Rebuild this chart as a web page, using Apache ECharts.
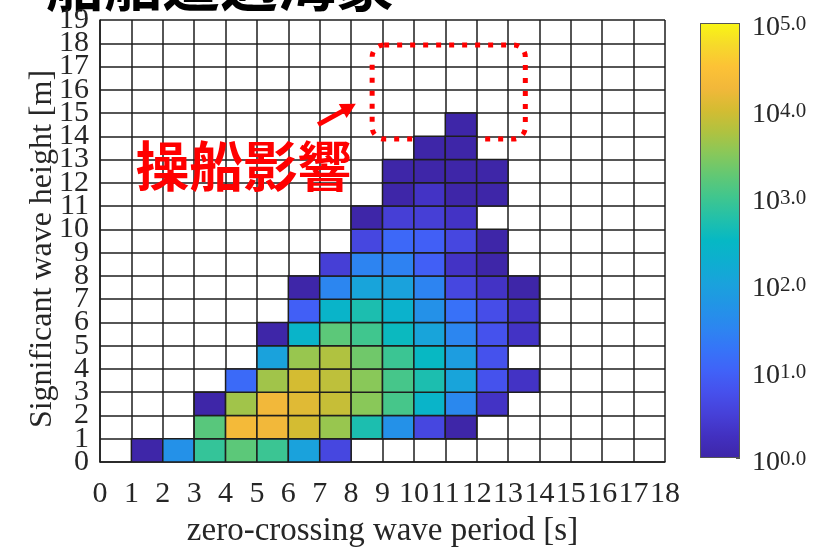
<!DOCTYPE html>
<html>
<head>
<meta charset="utf-8">
<style>
  html, body { margin: 0; padding: 0; background: #ffffff; }
  #chart { width: 820px; height: 547px; }
</style>
<script src="https://cdn.jsdelivr.net/npm/echarts@6.0.0/dist/echarts.min.js"></script>
</head>
<body>
<div id="chart"></div>
<script>
// Occurrence counts per wave-height bin (row = Hs bin [j, j+1) m),
// one entry per zero-crossing period bin [i, i+1) s, i = 0..17. 0 = no record.
const hs00 = [0, 1, 50, 800, 1600, 900, 100, 4, 0, 0, 0, 0, 0, 0, 0, 0, 0, 0];
const hs01 = [0, 0, 0, 1500, 20000, 18000, 10000, 4000, 500, 50, 4, 1, 0, 0, 0, 0, 0, 0];
const hs02 = [0, 0, 0, 1, 4500, 18000, 12600, 8000, 3200, 1100, 250, 35, 2, 0, 0, 0, 0, 0];
const hs03 = [0, 0, 0, 0, 13, 4500, 10000, 7000, 3200, 1100, 500, 110, 6, 2, 0, 0, 0, 0];
const hs04 = [0, 0, 0, 0, 0, 100, 4000, 5600, 2200, 900, 320, 80, 6, 0, 0, 0, 0, 0];
const hs05 = [0, 0, 0, 0, 0, 1, 250, 1600, 1000, 350, 110, 32, 6, 2, 0, 0, 0, 0];
const hs06 = [0, 0, 0, 0, 0, 0, 9, 250, 500, 220, 50, 16, 5, 2, 0, 0, 0, 0];
const hs07 = [0, 0, 0, 0, 0, 0, 1, 32, 110, 100, 30, 4, 2, 1, 0, 0, 0, 0];
const hs08 = [0, 0, 0, 0, 0, 0, 0, 3, 30, 28, 9, 2, 1, 0, 0, 0, 0, 0];
const hs09 = [0, 0, 0, 0, 0, 0, 0, 0, 4, 12, 9, 4, 1, 0, 0, 0, 0, 0];
const hs10 = [0, 0, 0, 0, 0, 0, 0, 0, 1, 3, 3, 2, 0, 0, 0, 0, 0, 0];
const hs11 = [0, 0, 0, 0, 0, 0, 0, 0, 0, 1, 2, 1, 1, 0, 0, 0, 0, 0];
const hs12 = [0, 0, 0, 0, 0, 0, 0, 0, 0, 1, 1, 1, 1, 0, 0, 0, 0, 0];
const hs13 = [0, 0, 0, 0, 0, 0, 0, 0, 0, 0, 1, 1, 0, 0, 0, 0, 0, 0];
const hs14 = [0, 0, 0, 0, 0, 0, 0, 0, 0, 0, 0, 1, 0, 0, 0, 0, 0, 0];
const hs15 = [0, 0, 0, 0, 0, 0, 0, 0, 0, 0, 0, 0, 0, 0, 0, 0, 0, 0];
const hs16 = [0, 0, 0, 0, 0, 0, 0, 0, 0, 0, 0, 0, 0, 0, 0, 0, 0, 0];
const hs17 = [0, 0, 0, 0, 0, 0, 0, 0, 0, 0, 0, 0, 0, 0, 0, 0, 0, 0];
const hs18 = [0, 0, 0, 0, 0, 0, 0, 0, 0, 0, 0, 0, 0, 0, 0, 0, 0, 0];
const heightRows = [hs00, hs01, hs02, hs03, hs04, hs05, hs06, hs07, hs08, hs09,
                    hs10, hs11, hs12, hs13, hs14, hs15, hs16, hs17, hs18];

// Axis ranges (bin edges) and colour-bar decades
const periodRange = [0, 18];
const heightRange = [0, 19];
const colorbarDecades = [0, 5];

// Text
const titleText = '船舶遭遇海象';
const noteText = '操船影響';
const xName = 'zero-crossing wave period [s]';
const yName = 'Significant wave height [m]';

// parula-like colour map, evenly spaced from 10^0 to 10^5
const parula = ['#3e26a8', '#4230c0', '#4640d8', '#4650ec', '#4062f8', '#3674f8',
  '#2c86f0', '#2294e6', '#1aa2dc', '#0eaed0', '#06b8c4', '#22c0aa', '#40c68e',
  '#62c874', '#88c85a', '#b0c240', '#d4bc32', '#f2b83a', '#fcc236', '#f6da2a', '#f9f614'];

// [period bin, height bin, log10(count), count]
const cells = [];
heightRows.forEach((row, j) => {
  row.forEach((n, i) => {
    if (n > 0) cells.push([i, j, Math.log10(n), n]);
  });
});

const serif = 'Liberation Serif';
const cjk = 'Noto Sans CJK JP';
const ink = '#262626';
const gridLine = { color: '#1e1e1e', width: 1.5 };

const chart = echarts.init(document.getElementById('chart'), null, { renderer: 'canvas' });

function renderCell(params, api) {
  const x0 = api.value(0);
  const y0 = api.value(1);
  const a = api.coord([x0, y0 + 1]);
  const b = api.coord([x0 + 1, y0]);
  return {
    type: 'rect',
    shape: { x: a[0], y: a[1], width: b[0] - a[0], height: b[1] - a[1] },
    style: { fill: api.visual('color'), stroke: '#1e1e1e', lineWidth: 1.5 }
  };
}

// Height tick labels are tightly packed, so even and odd labels sit on two
// coincident axes; each one then only carries every second label.
function heightAxis(parity, withFrame) {
  return {
    gridIndex: 0, type: 'value', min: heightRange[0], max: heightRange[1], interval: 1,
    position: 'left', offset: 0,
    name: withFrame ? yName : '', nameLocation: 'middle', nameGap: 41, nameMoveOverlap: false,
    nameTextStyle: { fontFamily: serif, fontSize: 32, color: ink, padding: [0, 16, 0, 0] },
    axisLine: { show: withFrame, lineStyle: gridLine },
    axisTick: { show: false },
    axisLabel: {
      fontFamily: serif, fontSize: 30, color: ink, margin: 11, hideOverlap: false,
      formatter: v => (Math.round(v) % 2 === parity ? String(Math.round(v)) : '')
    },
    splitLine: { show: withFrame, lineStyle: gridLine }
  };
}

const gradStops = parula.map((c, k) => ({ offset: k / (parula.length - 1), color: c }));

chart.setOption({
  animation: false,
  backgroundColor: '#ffffff',
  grid: [
    { left: 100, top: 20, width: 565, height: 442, containLabel: false, outerBoundsMode: 'none' },
    { left: 700, top: 23, width: 40, height: 435, containLabel: false, outerBoundsMode: 'none' }
  ],
  xAxis: [
    {
      gridIndex: 0, type: 'value', min: periodRange[0], max: periodRange[1], interval: 1,
      name: xName, nameLocation: 'middle', nameGap: 53, nameMoveOverlap: false,
      nameTextStyle: { fontFamily: serif, fontSize: 33, color: ink },
      axisLine: { show: true, lineStyle: gridLine },
      axisTick: { show: false },
      axisLabel: { fontFamily: serif, fontSize: 30, color: ink, margin: 17, hideOverlap: false,
                   showMinLabel: true, showMaxLabel: true },
      splitLine: { show: true, lineStyle: gridLine }
    },
    {
      gridIndex: 1, type: 'category', data: ['c'], boundaryGap: true,
      axisLine: { show: false }, axisTick: { show: false }, axisLabel: { show: false },
      splitLine: { show: false }
    }
  ],
  yAxis: [
    heightAxis(0, true),
    heightAxis(1, false),
    {
      gridIndex: 1, type: 'value', position: 'right',
      min: colorbarDecades[0], max: colorbarDecades[1], interval: 1,
      axisLine: { show: false },
      axisTick: { show: true, inside: true, length: 4, lineStyle: { color: '#555555', width: 1 } },
      splitLine: { show: false },
      axisLabel: {
        margin: 12, showMinLabel: true, showMaxLabel: true, padding: [10, 0, 0, 0],
        formatter: v => '{b|10}{s|' + v.toFixed(1) + '}',
        rich: {
          b: { fontFamily: serif, fontSize: 28, color: ink, lineHeight: 28, verticalAlign: 'bottom' },
          s: { fontFamily: serif, fontSize: 21, color: ink, lineHeight: 21, verticalAlign: 'top' }
        }
      }
    }
  ],
  visualMap: {
    show: false, type: 'continuous', seriesIndex: 0, dimension: 2,
    min: colorbarDecades[0], max: colorbarDecades[1],
    inRange: { color: parula }
  },
  series: [
    {
      type: 'custom', xAxisIndex: 0, yAxisIndex: 0,
      renderItem: renderCell, data: cells,
      encode: { x: 0, y: 1 }, clip: true
    },
    {
      type: 'bar', xAxisIndex: 1, yAxisIndex: 2, barWidth: '100%',
      data: [colorbarDecades[1]], silent: true,
      itemStyle: {
        color: { type: 'linear', x: 0, y: 1, x2: 0, y2: 0, colorStops: gradStops },
        borderColor: '#555555', borderWidth: 1
      }
    }
  ]
});

// Annotation: highlighted region (period 8.7-13.55 s, Hs 13.9-17.9 m) with arrow and label
const px = p => chart.convertToPixel({ xAxisIndex: 0, yAxisIndex: 0 }, p);
const boxA = px([8.67, 17.93]);
const boxB = px([13.55, 13.88]);
const arrowTail = px([6.95, 14.5]);
const arrowTip = px([8.15, 15.4]);
const notePos = px([4.57, 12.7]);

const dx = arrowTip[0] - arrowTail[0];
const dy = arrowTip[1] - arrowTail[1];
const len = Math.hypot(dx, dy);
const ux = dx / len, uy = dy / len;
const headLen = 15, headHalf = 8;
const base = [arrowTip[0] - ux * headLen, arrowTip[1] - uy * headLen];

chart.setOption({
  graphic: [
    {
      type: 'text', silent: true,
      style: { text: titleText, x: 46, y: 13, verticalAlign: 'bottom',
               font: 'bold 58px "' + cjk + '"', fill: '#000000' }
    },
    {
      type: 'text', silent: true,
      style: {
        text: noteText, x: notePos[0], y: notePos[1], align: 'center', verticalAlign: 'middle',
        font: 'bold 54px "' + cjk + '"', fill: '#ff0000'
      }
    },
    {
      type: 'rect', silent: true,
      shape: { x: boxA[0], y: boxA[1], width: boxB[0] - boxA[0], height: boxB[1] - boxA[1], r: 12 },
      style: { fill: 'none', stroke: '#ff0000', lineWidth: 5, lineDash: [5, 8] }
    },
    {
      type: 'line', silent: true,
      shape: { x1: arrowTail[0], y1: arrowTail[1], x2: base[0] + ux * 2, y2: base[1] + uy * 2 },
      style: { stroke: '#ff0000', lineWidth: 5 }
    },
    {
      type: 'polygon', silent: true,
      shape: {
        points: [
          arrowTip,
          [base[0] - uy * headHalf, base[1] + ux * headHalf],
          [base[0] + uy * headHalf, base[1] - ux * headHalf]
        ]
      },
      style: { fill: '#ff0000' }
    }
  ]
});
</script>
</body>
</html>
